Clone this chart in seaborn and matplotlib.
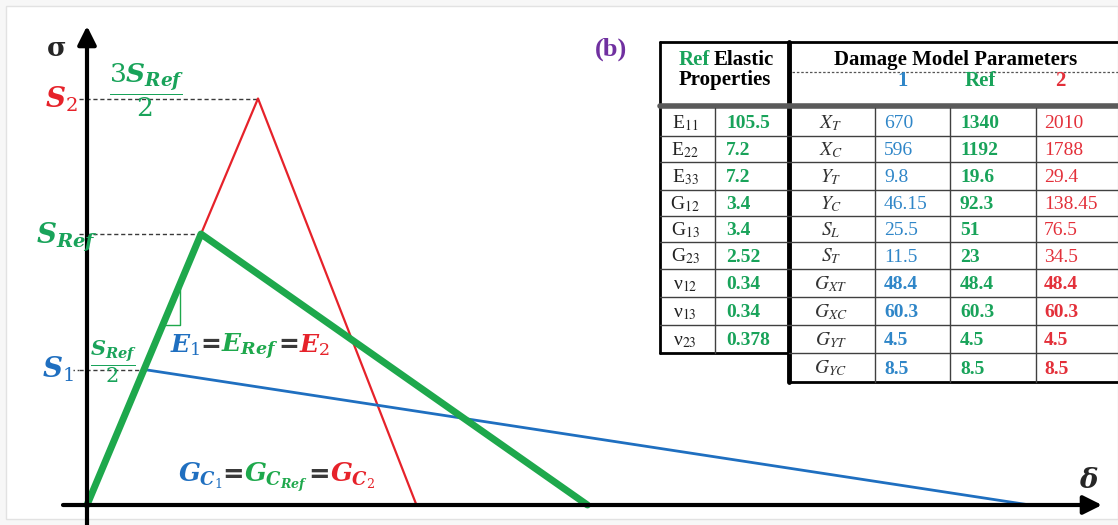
import matplotlib
matplotlib.use('Agg')
import numpy as np
import pandas as pd
import seaborn as sns
from matplotlib import pyplot as plt
from matplotlib.patches import Rectangle

# curve data (stress in units of S_Ref, strain in units of the Ref peak strain)
modes = ['1', 'Ref', '2']
peak_strain = [0.5, 1.0, 1.5]
peak_stress = [0.5, 1.0, 1.5]
final_strain = [8.27, 4.39, 2.89]

# table data
elastic_names = ['E$_{11}$', 'E$_{22}$', 'E$_{33}$', 'G$_{12}$', 'G$_{13}$',
                 'G$_{23}$', 'ν$_{12}$', 'ν$_{13}$', 'ν$_{23}$']
elastic_values = ['105.5', '7.2', '7.2', '3.4', '3.4', '2.52', '0.34', '0.34', '0.378']
param_names = [r'$X_T$', r'$X_C$', r'$Y_T$', r'$Y_C$', r'$S_L$', r'$S_T$',
               r'$G_{XT}$', r'$G_{XC}$', r'$G_{YT}$', r'$G_{YC}$']
params_1 = ['670', '596', '9.8', '46.15', '25.5', '11.5', '48.4', '60.3', '4.5', '8.5']
params_ref = ['1340', '1192', '19.6', '92.3', '51', '23', '48.4', '60.3', '4.5', '8.5']
params_2 = ['2010', '1788', '29.4', '138.45', '76.5', '34.5', '48.4', '60.3', '4.5', '8.5']

blue = '#1f6fc0'
green = '#1ea84c'
red = '#e6222a'
tblue = '#2f86c8'
tgreen = '#19a35a'
tred = '#e3303a'
gray = '#3a3a3a'

sns.set_style('white')
plt.rcParams['mathtext.fontset'] = 'custom'
plt.rcParams['mathtext.it'] = 'DejaVu Serif:italic:bold'
plt.rcParams['mathtext.rm'] = 'DejaVu Serif'
plt.rcParams['mathtext.bf'] = 'DejaVu Serif:bold'

fig = plt.figure(figsize=(11.18, 5.25), dpi=100, facecolor='#f7f7f7')
fig.patches.append(Rectangle((6 / 1118, 6 / 525), 1112 / 1118, 513 / 525,
                             transform=fig.transFigure, facecolor='white',
                             edgecolor='#e2e2e2', lw=1, zorder=-5))

# data axes, mapped so origin sits at pixel (87, 505)
ax = fig.add_axes([0, 0, 1, 1])
ax.set_xlim(-87 / 114, (1118 - 87) / 114)
ax.set_ylim(-20 / 271, 505 / 271)
ax.set_axis_off()

rows = []
for m, d0, s0, df in zip(modes, peak_strain, peak_stress, final_strain):
    rows += [(m, 0.0, 0.0), (m, d0, s0), (m, df, 0.0)]
curves = pd.DataFrame(rows, columns=['mode', 'delta', 'sigma'])

styles = {'2': (red, 1.6), '1': (blue, 2.0), 'Ref': (green, 5.0)}
for m in ['2', '1', 'Ref']:
    c, lw = styles[m]
    sns.lineplot(data=curves[curves['mode'] == m], x='delta', y='sigma',
                 sort=False, estimator=None, color=c, lw=lw, ax=ax, legend=False)

for d0, s0 in zip(peak_strain, peak_stress):
    ax.plot([-0.07, d0], [s0, s0], ls=(0, (3, 2)), color=gray, lw=1, zorder=1)
ax.plot([-0.12, -0.07], [peak_stress[0]] * 2, ls=(0, (1, 2)), color=gray, lw=1)

# slope marker on the Ref curve
ax.plot([0.665, 0.815, 0.815], [0.665, 0.665, 0.815], color=green, lw=1)
ax.set_xlabel('')
ax.set_ylabel('')

# overlay in pixel coordinates for annotations and table
ov = fig.add_axes([0, 0, 1, 1])
ov.set_xlim(0, 1118)
ov.set_ylim(525, 0)
ov.set_axis_off()

arrow = dict(arrowstyle='-|>', lw=3, color='black', mutation_scale=28,
             shrinkA=0, shrinkB=0)
ov.annotate('', xy=(87, 26), xytext=(87, 525), arrowprops=arrow)
ov.annotate('', xy=(1102, 505), xytext=(63, 505), arrowprops=arrow)
ov.text(47, 56, 'σ', family='DejaVu Serif', weight='bold', fontsize=19)
ov.text(1079, 488, 'δ', family='DejaVu Serif', weight='bold', style='italic',
        fontsize=20)

ov.text(45, 108, r'$S_2$', color=red, fontsize=20)
ov.text(147, 90, r'$\dfrac{3S_{Ref}}{2}$', color=tgreen, fontsize=19,
        ha='center', va='center')
ov.text(36, 243, r'$S_{Ref}$', color=tgreen, fontsize=20)
ov.text(42, 378, r'$S_1$', color=blue, fontsize=20)
ov.text(113, 362, r'$\dfrac{S_{Ref}}{2}$', color=tgreen, fontsize=15,
        ha='center', va='center')


def colored_line(x, y, parts, size):
    t = ov.text(x, y, parts[0][0], color=parts[0][1], fontsize=size)
    for s, c in parts[1:]:
        extra = {} if s.startswith('$') else dict(family='DejaVu Sans',
                                                  weight='bold')
        t = ov.annotate(s, xy=(1, y), xycoords=(t, 'data'), color=c,
                        fontsize=size, va='baseline', **extra)


colored_line(170, 352, [(r'$E_1$', blue), ('=', gray), (r'$E_{Ref}$', green),
                        ('=', gray), (r'$E_2$', red)], 18)
colored_line(178, 482, [(r'$G_{C_1}$', blue), ('=', gray),
                        (r'$G_{C_{Ref}}$', green), ('=', gray),
                        (r'$G_{C_2}$', red)], 18.5)

ov.text(611, 56, '(b)', family='Liberation Serif', weight='bold',
        color='#7030a0', fontsize=19, ha='center')

# table
lines = [108, 136, 162, 190, 216, 242, 269, 297, 325, 353, 382]
serif = dict(family='Liberation Serif', math_fontfamily='stix')
x_right = 1125
ov.plot([660, x_right], [42, 42], color='black', lw=2)
ov.plot([660, 660], [42, lines[9]], color='black', lw=2)
ov.plot([660, 789], [lines[9], lines[9]], color='black', lw=2)
ov.plot([789, x_right], [lines[10], lines[10]], color='black', lw=2)
ov.plot([789, 789], [42, lines[10]], color='black', lw=3.5)
ov.plot([660, x_right], [105.5, 105.5], color='#5a5a5a', lw=4)
ov.plot([792, x_right], [72, 72], color='#555555', lw=0.9, ls=(0, (2, 1.5)))
for y in lines[1:9]:
    ov.plot([660, x_right], [y, y], color='#404040', lw=1)
ov.plot([789, x_right], [lines[9], lines[9]], color='#404040', lw=1)
ov.plot([715, 715], [108, lines[9]], color='#404040', lw=1)
for xv in [875, 950, 1036]:
    ov.plot([xv, xv], [108, lines[10]], color='#404040', lw=1)

hdr = dict(family='Liberation Serif', weight='bold', fontsize=15)
ov.text(679, 65, 'Ref', color=tgreen, ha='left', **hdr)
ov.text(714, 65, 'Elastic', color='black', ha='left', **hdr)
ov.text(725, 85, 'Properties', color='black', ha='center', **hdr)
ov.text(956, 65, 'Damage Model Parameters', color='black', ha='center', **hdr)
ov.text(903, 86, '1', color=tblue, ha='center', **hdr)
ov.text(980, 86, 'Ref', color=tgreen, ha='center', **hdr)
ov.text(1060, 86, '2', color=tred, ha='center', **hdr)

fs = 14
for i in range(len(param_names)):
    yb = (lines[i] + lines[i + 1]) / 2 + 6
    if i < len(elastic_names):
        ov.text(685, yb, elastic_names[i], color='#222222', fontsize=fs,
                ha='center', **serif)
        ov.text(726, yb, elastic_values[i], color=tgreen, fontsize=fs,
                weight='bold', **serif)
    ov.text(831, yb, param_names[i], color='#333333', fontsize=fs, ha='center',
            **serif)
    w = 'bold' if i >= 6 else 'normal'
    ov.text(884, yb, params_1[i], color=tblue, fontsize=fs, weight=w, **serif)
    ov.text(960, yb, params_ref[i], color=tgreen, fontsize=fs, weight='bold',
            **serif)
    ov.text(1044, yb, params_2[i], color=tred, fontsize=fs, weight=w, **serif)

fig.savefig('out.png', dpi=100, facecolor=fig.get_facecolor())
